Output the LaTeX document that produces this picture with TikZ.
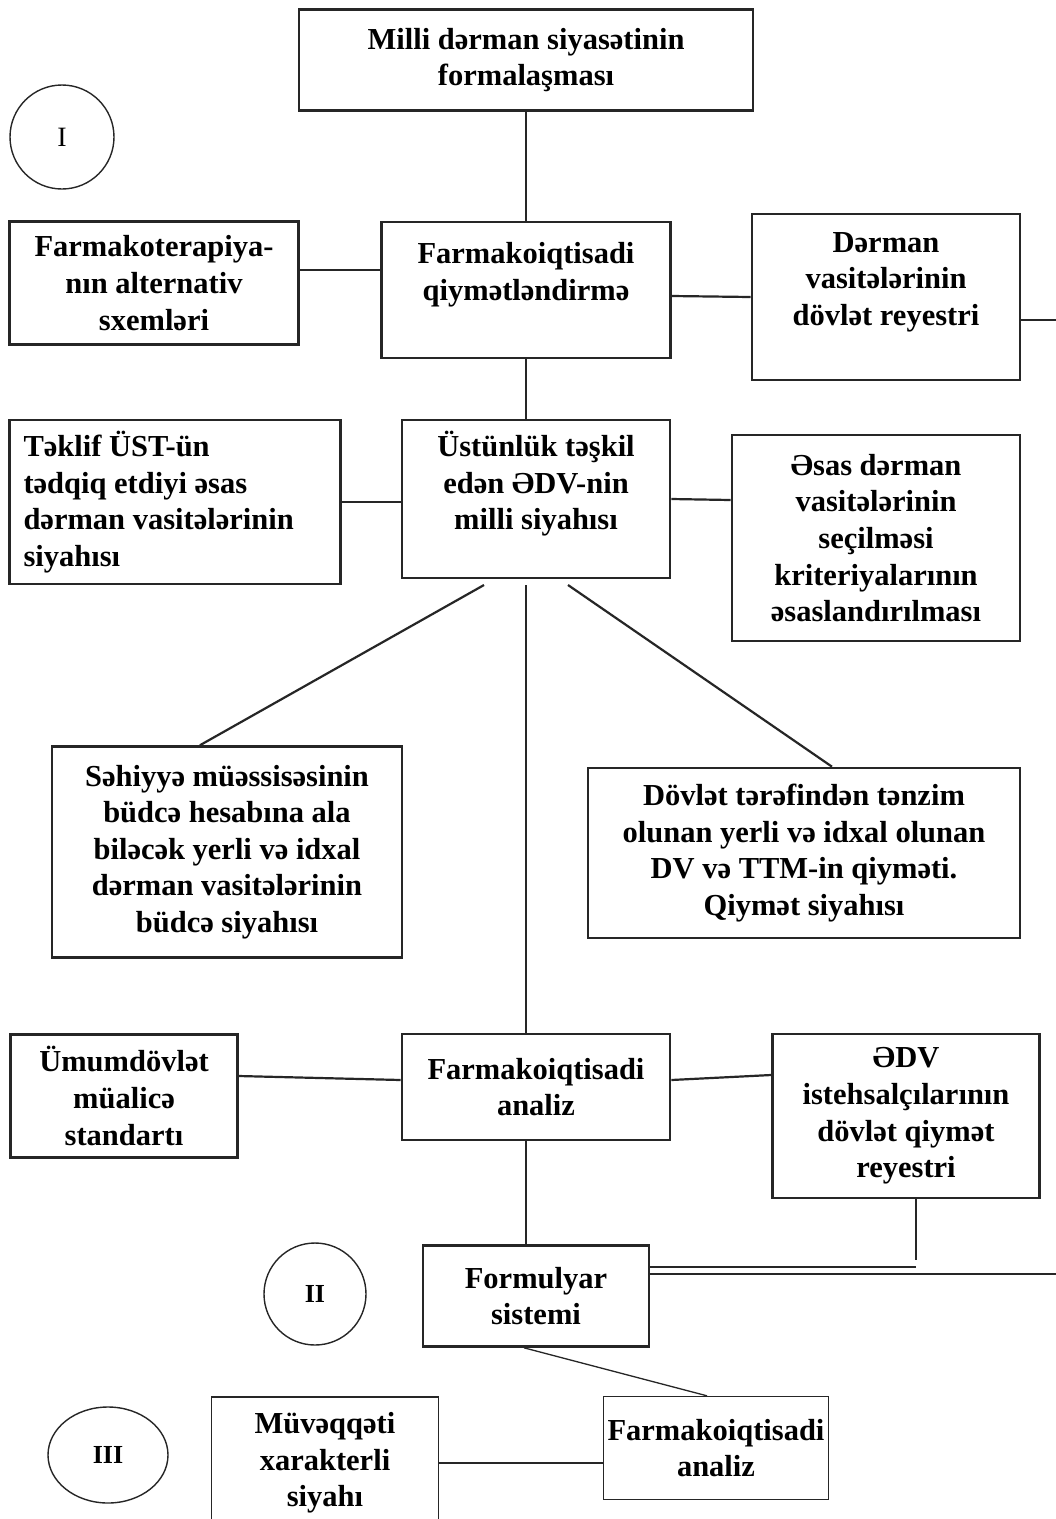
\documentclass[tikz,border=0pt]{standalone}
\usepackage{fontspec}
\setmainfont{Liberation Serif}
\usetikzlibrary{positioning,shapes.geometric,calc}

\begin{document}
\begin{tikzpicture}[
    x=1pt, y=-1pt,
    font=\fontsize{30.5}{36.6}\selectfont\bfseries,
    box/.style={rectangle, draw=black!85, line width=2.6pt, align=center, inner sep=4pt},
    thinbox/.style={box, line width=1.4pt},
    link/.style={draw=black!85, line width=2.2pt},
    thinlink/.style={draw=black!85, line width=1.3pt},
    stage/.style={circle, draw=black!85, line width=1.4pt, font=\fontsize{26}{30}\selectfont\bfseries}
]
\useasboundingbox[fill=white] (0,0) rectangle (1056,1519);

% Level I
\node[box, minimum width=454, minimum height=101] (milli) at (526,60) {Milli dərman siyasətinin\\formalaşması};
\node[stage, minimum size=104, font=\fontsize{28}{32}\selectfont] (st1) at (62,137) {I};

\node[box, minimum width=289, minimum height=123] (alter) at (154,283) {Farmakoterapiya-\\nın alternativ\\sxemləri};
\node[box, minimum width=289, minimum height=136] (qiym) at (526,290) {Farmakoiqtisadi\\qiymətləndirmə\\\mbox{}};
\node[box, minimum width=268, minimum height=166] (reyes) at (886,297) {Dərman\\vasitələrinin\\dövlət reyestri\\\mbox{}};

\node[box, minimum width=331, minimum height=164, text width=303, align=flush left] (teklif) at (175,502) {Təklif ÜST-ün\\tədqiq etdiyi əsas\\dərman vasitələrinin\\siyahısı};
\node[box, minimum width=268, minimum height=158] (ustun) at (536,499) {Üstünlük təşkil\\edən ƏDV-nin\\milli siyahısı\\\mbox{}};
\node[box, minimum width=288, minimum height=206] (kriter) at (876,538) {Əsas dərman\\vasitələrinin\\seçilməsi\\kriteriyalarının\\əsaslandırılması};

\node[box, minimum width=350, minimum height=211] (budce) at (227,852) {Səhiyyə müəssisəsinin\\büdcə hesabına ala\\biləcək yerli və idxal\\dərman vasitələrinin\\büdcə siyahısı};
\node[box, minimum width=432, minimum height=170] (qiymet) at (804,853) {Dövlət tərəfindən tənzim\\olunan yerli və idxal olunan\\DV və TTM-in qiyməti.\\Qiymət siyahısı};

% Level II
\node[box, minimum width=227, minimum height=123] (umum) at (124,1096) {Ümumdövlət\\müalicə\\standartı};
\node[box, minimum width=268, minimum height=106] (analiz) at (536,1087) {Farmakoiqtisadi\\analiz};
\node[box, minimum width=267, minimum height=164] (istehsal) at (906,1116) {ƏDV\\istehsalçılarının\\dövlət qiymət\\reyestri};

\node[box, minimum width=226, minimum height=101] (formul) at (536,1296) {Formulyar\\sistemi};
\node[stage, minimum size=102] (st2) at (315,1294) {II};

% Level III
\node[stage, ellipse, minimum width=120, minimum height=96] (st3) at (108,1455) {III};
\node[thinbox, minimum width=227, minimum height=132] (muveq) at (325,1463) {Müvəqqəti\\xarakterli\\siyahı};
\node[thinbox, minimum width=225, minimum height=103] (analiz2) at (716,1448) {Farmakoiqtisadi\\analiz};

% free ends
\coordinate (edgeA) at (1056,320);
\coordinate (edgeB) at (1056,1274);
\coordinate (dbl) at (916,1267);
\coordinate (fanL) at (484,585);
\coordinate (fanM) at (526,585);
\coordinate (fanR) at (568,585);

% connectors
\draw[link] (milli) -- (qiym);
\draw[link] ([yshift=13]alter.east) -- ([yshift=20]qiym.west);
\draw[link] ([yshift=-6]qiym.east) -- (reyes.west);
\draw[link] ([yshift=-23]reyes.east) -- (edgeA);
\draw[link] (qiym.south -| ustun.north) ++(-10,0) -- ([xshift=-10]ustun.north);
\draw[link] (teklif.east) -- (teklif.east -| ustun.west);
\draw[link] (ustun.east) -- ([yshift=38]kriter.west);

\draw[link] (fanL) -- ([xshift=-27]budce.north);
\draw[link] (fanM) -- (fanM |- analiz.north);
\draw[link] (fanR) -- ([xshift=28]qiymet.north);

\draw[link] ([yshift=20]umum.east) -- ([yshift=7]analiz.west);
\draw[link] ([yshift=7]analiz.east) -- ([yshift=41]istehsal.west);
\draw[link] ([xshift=-10]analiz.south) -- ([xshift=-10]formul.north);
\draw[link] ([xshift=10]istehsal.south) -- ([yshift=7]dbl);
\draw[link] (dbl) -- (dbl -| formul.east);
\draw[link] (edgeB -| formul.east) -- (edgeB);

\draw[thinlink] ([xshift=-12]formul.south) -- ([xshift=-9]analiz2.north);
\draw[thinlink] (muveq.east) -- (muveq.east -| analiz2.west);
\end{tikzpicture}
\end{document}
